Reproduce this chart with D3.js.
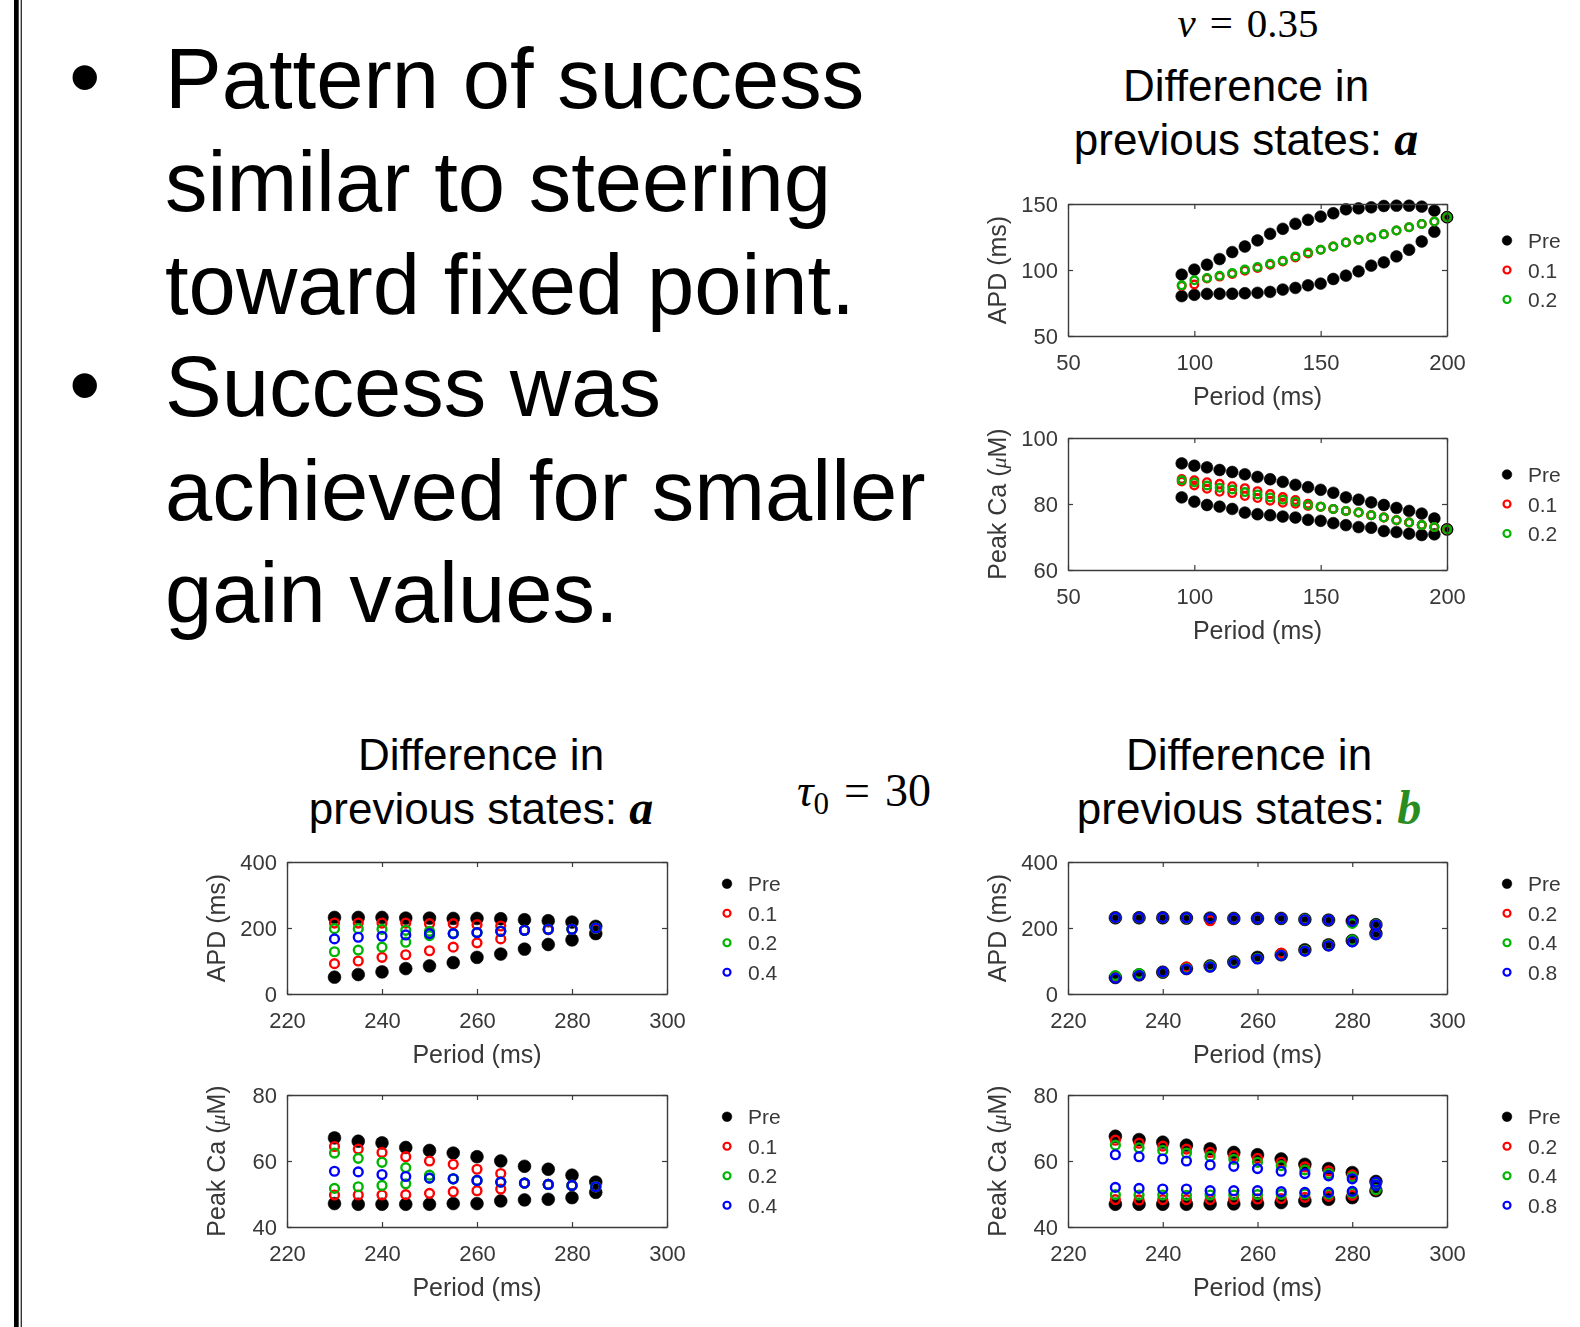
<!DOCTYPE html>
<html>
<head>
<meta charset="utf-8">
<script src="https://cdn.jsdelivr.net/npm/d3@7"></script>
<style>
  html, body { margin: 0; padding: 0; background: #ffffff; }
  svg { display: block; }
</style>
</head>
<body>
<script>
// ---------- Data ----------
// Pacing periods (ms)
const periodsV = [95,100,105,110,115,120,125,130,135,140,145,150,155,160,165,170,175,180,185,190,195,200];
const periodsT = [230,235,240,245,250,255,260,265,270,275,280,285];

// nu = 0.35, difference in a: APD (ms)
const apdV_pre_hi = [96.5,100.3,104.0,108.3,113.6,117.8,122.4,127.4,131.2,135.0,138.0,140.5,143.0,146.0,146.7,147.5,148.5,148.7,148.7,148.0,145.0,140.0];
const apdV_pre_lo = [80.2,81.2,81.9,82.0,82.0,82.4,82.7,83.4,85.2,86.4,88.4,89.7,93.2,95.7,99.0,103.3,105.8,110.3,115.3,121.6,129.0,140.0];
const apdV_g01    = [88.0,89.0,93.5,95.0,97.0,99.5,101.5,104.0,106.5,109.5,112.5,115.3,117.8,120.9,122.9,124.6,127.1,129.9,132.4,134.9,136.7,140.0];
const apdV_g02    = [88.4,92.2,94.0,95.7,97.7,100.3,102.3,104.8,107.0,110.3,113.3,115.3,117.8,120.9,122.9,124.6,127.1,129.9,132.4,134.9,136.7,140.0];

// nu = 0.35, difference in a: peak Ca (uM)
const caV_pre_hi = [92.3,91.6,91.1,90.3,89.7,89.0,88.2,87.5,86.7,85.8,85.1,84.3,83.4,82.0,81.3,80.5,79.7,78.8,77.9,77.1,75.6,72.3];
const caV_pre_lo = [82.0,80.7,79.7,79.2,78.5,77.4,76.9,76.6,76.2,75.9,75.2,74.9,74.2,73.6,73.0,72.8,71.8,71.5,71.0,70.6,70.8,72.3];
const caV_g01_hi = [87.6,87.2,86.6,86.1,85.4,84.8,83.9,83.0,82.1,81.2,80.1,79.2,78.5,77.9,77.4,76.6,75.9,75.1,74.4,73.6,73.0,72.3];
const caV_g01_lo = [86.8,85.6,84.6,83.7,83.3,82.4,81.8,81.0,80.4,80.1,79.4,79.2,78.5,77.9,77.4,76.6,75.9,75.1,74.4,73.6,73.0,72.3];
const caV_g02    = [87.2,86.5,85.6,84.9,84.4,83.6,82.9,82.0,81.3,80.7,79.7,79.2,78.5,77.9,77.4,76.6,75.9,75.1,74.4,73.6,73.0,72.3];

// tau0 = 30, difference in a: APD (ms)
const apdA_pre_hi = [232,232,232,230,230,229,229,228,225,222,218,205];
const apdA_pre_lo = [51,59,67,77,85,95,111,121,136,150,164,183];
const apdA_g01_hi = [215,215,215,215,213,213,210,206,193,195,196,199];
const apdA_g01_lo = [92,100,111,119,131,142,155,167,193,195,196,199];
const apdA_g02_hi = [198,198,196,193,190,183,186,190,193,196,196,200];
const apdA_g02_lo = [128,133,142,157,177,183,186,190,193,196,196,200];
const apdA_g04    = [167,172,175,179,183,183,186,190,193,196,196,200];

// tau0 = 30, difference in a: peak Ca (uM)
const caA_pre_hi = [67.0,66.0,65.5,64.1,63.2,62.4,61.3,60.0,58.4,57.5,55.7,53.6];
const caA_pre_lo = [47.1,46.9,46.9,46.9,46.9,47.1,47.1,47.9,48.2,48.4,48.9,50.5];
const caA_g01_hi = [64.4,63.6,62.6,61.3,60.0,59.0,57.5,56.2,53.3,52.9,52.6,52.2];
const caA_g01_lo = [49.7,49.7,49.7,49.8,50.2,50.7,51.0,51.5,53.3,52.9,52.6,52.2];
const caA_g02_hi = [62.4,60.8,59.6,58.0,55.7,54.6,54.1,53.6,53.3,52.9,52.6,52.2];
const caA_g02_lo = [51.7,52.2,52.6,53.1,54.8,54.6,54.1,53.6,53.3,52.9,52.6,52.2];
const caA_g04    = [56.9,56.7,55.9,55.3,54.8,54.6,54.1,53.6,53.3,52.9,52.6,52.2];

// tau0 = 30, difference in b: APD (ms)
const apdB_pre_hi = [231,231,231,230,230,229,229,229,226,224,221,210];
const apdB_pre_lo = [50,58,66,77,85,97,111,119,134,149,162,183];
const apdB_g02_hi = [231,231,231,230,222,229,229,229,226,224,220,210];
const apdB_g02_lo = [52,58,66,82,85,97,108,124,132,148,160,182];
const apdB_g04_hi = [231,231,231,230,230,229,229,229,226,224,214,210];
const apdB_g04_lo = [56,62,66,77,85,97,108,118,132,148,163,180];
const apdB_g08_hi = [232,232,232,231,230,229,229,229,225,224,220,209];
const apdB_g08_lo = [48,56,67,75,82,95,106,117,130,146,158,180];

// tau0 = 30, difference in b: peak Ca (uM)
const caB_pre_hi = [67.5,66.5,65.7,64.8,63.7,62.6,61.9,60.6,59.0,57.7,56.5,53.8];
const caB_pre_lo = [46.9,46.9,46.9,46.9,47.0,47.0,47.1,47.4,47.9,48.4,48.9,51.0];
const caB_g02_hi = [66.3,65.4,64.5,63.6,62.6,61.6,60.8,59.6,58.2,57.0,55.8,53.5];
const caB_g02_lo = [48.3,48.2,48.3,48.3,48.3,48.4,48.5,48.6,49.0,49.3,49.6,51.2];
const caB_g04_hi = [64.8,64.0,63.2,62.4,61.4,60.5,59.6,58.6,57.3,56.2,55.2,53.3];
const caB_g04_lo = [49.8,49.7,49.7,49.6,49.7,49.7,49.8,49.9,50.0,50.0,50.3,51.3];
const caB_g08_hi = [61.9,61.3,60.6,60.0,58.8,58.4,57.7,56.9,56.2,55.5,54.6,53.6];
const caB_g08_lo = [52.0,51.7,51.5,51.5,51.0,51.0,51.0,50.7,50.5,50.5,50.8,52.6];

// Axis ticks
const xTicksV = [50,100,150,200];
const yTicksApdV = [50,100,150];
const yTicksCaV = [60,80,100];
const xTicksT = [220,240,260,280,300];
const yTicksApdT = [0,200,400];
const yTicksCaT = [40,60,80];

// Legend entries
const legendV = ["Pre","0.1","0.2"];
const legendA = ["Pre","0.1","0.2","0.4"];
const legendB = ["Pre","0.2","0.4","0.8"];

// Slide text
const bulletLines = [
  {bullet: true,  text: "Pattern of success"},
  {bullet: false, text: "similar to steering"},
  {bullet: false, text: "toward fixed point."},
  {bullet: true,  text: "Success was"},
  {bullet: false, text: "achieved for smaller"},
  {bullet: false, text: "gain values."}
];

// ---------- Drawing ----------
const W = 1580, H = 1327;
const BLACK = "#000000", RED = "#ff0000", GREEN = "#00b400", BLUE = "#0000ff";

const svg = d3.select("body").append("svg")
  .attr("width", W).attr("height", H)
  .attr("viewBox", `0 0 ${W} ${H}`);

svg.append("rect").attr("width", W).attr("height", H).attr("fill", "#fff");

const defs = svg.append("defs");
defs.append("filter").attr("id", "soft")
  .attr("x", "-5%").attr("y", "-5%").attr("width", "110%").attr("height", "110%")
  .append("feGaussianBlur").attr("stdDeviation", 0.6);

// slide border at the left
svg.append("rect").attr("x", 14).attr("y", 0).attr("width", 4.7).attr("height", H).attr("fill", "#000");
svg.append("rect").attr("x", 20.7).attr("y", 0).attr("width", 1.1).attr("height", H).attr("fill", "#000");

// bullet text
const baselines = [108, 211, 314, 416, 520, 622];
const body = svg.append("g").attr("font-family", "'Liberation Sans', Arial, sans-serif")
  .attr("font-size", 85).attr("fill", "#000");
bulletLines.forEach((ln, i) => {
  if (ln.bullet) body.append("text").attr("x", 69).attr("y", baselines[i]).attr("font-size", 90).text("\u2022");
  body.append("text").attr("x", 165).attr("y", baselines[i]).text(ln.text);
});

// parameter labels
const serif = "'Liberation Serif', 'DejaVu Serif', serif";
const nu = svg.append("text").attr("x", 1248).attr("y", 37).attr("text-anchor", "middle")
  .attr("font-family", serif).attr("font-size", 41).attr("fill", "#000");
nu.append("tspan").attr("font-style", "italic").text("\u03bd");
nu.append("tspan").attr("dx", 14).text("=");
nu.append("tspan").attr("dx", 14).text("0.35");

const tau = svg.append("text").attr("x", 864).attr("y", 806).attr("text-anchor", "middle")
  .attr("font-family", serif).attr("font-size", 46).attr("fill", "#000");
tau.append("tspan").attr("font-style", "italic").text("\u03c4");
tau.append("tspan").attr("font-size", 31).attr("dy", 8).text("0");
tau.append("tspan").attr("dy", -8).attr("dx", 15).text("=");
tau.append("tspan").attr("dx", 15).text("30");

// block titles
function title(cx, y1, letter, color) {
  const g = svg.append("g").attr("font-family", "'Liberation Sans', Arial, sans-serif")
    .attr("font-size", 44).attr("fill", "#000").attr("text-anchor", "middle");
  g.append("text").attr("x", cx).attr("y", y1).text("Difference in");
  const t = g.append("text").attr("x", cx).attr("y", y1 + 54);
  t.append("tspan").text("previous states: ");
  t.append("tspan").attr("font-family", serif).attr("font-weight", "bold")
    .attr("font-style", "italic").attr("fill", color).attr("font-size", 48).text(letter);
}
title(1246, 101, "a", "#000");
title(481, 770, "a", "#000");
title(1249, 770, "b", "#2a8c1e");

// panels
const panels = [
  { x0: 1068, y0: 204, w: 379, h: 132, xDomain: [50,200], yDomain: [50,150],
    xTicks: xTicksV, yTicks: yTicksApdV, xs: periodsV, yLabel: "APD (ms)", legend: legendV, rDot: 5.9, rRing: 3.8,
    series: [
      {color: BLACK, filled: true,  branches: [apdV_pre_hi, apdV_pre_lo]},
      {color: RED,   filled: false, branches: [apdV_g01]},
      {color: GREEN, filled: false, branches: [apdV_g02]} ] },
  { x0: 1068, y0: 438, w: 379, h: 132, xDomain: [50,200], yDomain: [60,100],
    xTicks: xTicksV, yTicks: yTicksCaV, xs: periodsV, yLabel: "ca", legend: legendV, rDot: 5.9, rRing: 3.8,
    series: [
      {color: BLACK, filled: true,  branches: [caV_pre_hi, caV_pre_lo]},
      {color: RED,   filled: false, branches: [caV_g01_hi, caV_g01_lo]},
      {color: GREEN, filled: false, branches: [caV_g02]} ] },
  { x0: 287, y0: 862, w: 380, h: 132, xDomain: [220,300], yDomain: [0,400],
    xTicks: xTicksT, yTicks: yTicksApdT, xs: periodsT, yLabel: "APD (ms)", legend: legendA, rDot: 6.4, rRing: 4.4,
    series: [
      {color: BLACK, filled: true,  branches: [apdA_pre_hi, apdA_pre_lo]},
      {color: RED,   filled: false, branches: [apdA_g01_hi, apdA_g01_lo]},
      {color: GREEN, filled: false, branches: [apdA_g02_hi, apdA_g02_lo]},
      {color: BLUE,  filled: false, branches: [apdA_g04]} ] },
  { x0: 287, y0: 1095, w: 380, h: 132, xDomain: [220,300], yDomain: [40,80],
    xTicks: xTicksT, yTicks: yTicksCaT, xs: periodsT, yLabel: "ca", legend: legendA, rDot: 6.4, rRing: 4.4,
    series: [
      {color: BLACK, filled: true,  branches: [caA_pre_hi, caA_pre_lo]},
      {color: RED,   filled: false, branches: [caA_g01_hi, caA_g01_lo]},
      {color: GREEN, filled: false, branches: [caA_g02_hi, caA_g02_lo]},
      {color: BLUE,  filled: false, branches: [caA_g04]} ] },
  { x0: 1068, y0: 862, w: 379, h: 132, xDomain: [220,300], yDomain: [0,400],
    xTicks: xTicksT, yTicks: yTicksApdT, xs: periodsT, yLabel: "APD (ms)", legend: legendB, rDot: 6.4, rRing: 4.4,
    series: [
      {color: BLACK, filled: true,  branches: [apdB_pre_hi, apdB_pre_lo]},
      {color: RED,   filled: false, branches: [apdB_g02_hi, apdB_g02_lo]},
      {color: GREEN, filled: false, branches: [apdB_g04_hi, apdB_g04_lo]},
      {color: BLUE,  filled: false, branches: [apdB_g08_hi, apdB_g08_lo]} ] },
  { x0: 1068, y0: 1095, w: 379, h: 132, xDomain: [220,300], yDomain: [40,80],
    xTicks: xTicksT, yTicks: yTicksCaT, xs: periodsT, yLabel: "ca", legend: legendB, rDot: 6.4, rRing: 4.4,
    series: [
      {color: BLACK, filled: true,  branches: [caB_pre_hi, caB_pre_lo]},
      {color: RED,   filled: false, branches: [caB_g02_hi, caB_g02_lo]},
      {color: GREEN, filled: false, branches: [caB_g04_hi, caB_g04_lo]},
      {color: BLUE,  filled: false, branches: [caB_g08_hi, caB_g08_lo]} ] }
];

const AX = "#3a3a3a";
const sans = "'Liberation Sans', Arial, Helvetica, sans-serif";

function drawPanel(p) {
  const g = svg.append("g").attr("filter", "url(#soft)");
  const x = d3.scaleLinear().domain(p.xDomain).range([p.x0, p.x0 + p.w]);
  const y = d3.scaleLinear().domain(p.yDomain).range([p.y0 + p.h, p.y0]);

  g.append("rect").attr("x", p.x0).attr("y", p.y0).attr("width", p.w).attr("height", p.h).attr("fill", "#fff");

  // data markers, series drawn in legend order
  p.series.forEach(s => {
    s.branches.forEach(vals => {
      const pts = p.xs.map((px, i) => [px, vals[i]]);
      g.append("g").selectAll("circle").data(pts).join("circle")
        .attr("cx", d => x(d[0])).attr("cy", d => y(d[1]))
        .attr("r", s.filled ? p.rDot : p.rRing)
        .attr("fill", s.filled ? s.color : "none")
        .attr("stroke", s.color)
        .attr("stroke-width", s.filled ? 0.6 : 2.4);
    });
  });

  // axes: inward ticks on all four sides
  const fmt = d3.format("d");
  const styleAxis = sel => {
    sel.selectAll(".domain").attr("stroke", AX).attr("stroke-width", 1.4);
    sel.selectAll(".tick line").attr("stroke", AX).attr("stroke-width", 1.2);
    sel.selectAll("text").attr("font-family", sans).attr("font-size", 22).attr("fill", "#383838");
  };
  g.append("g").attr("transform", `translate(0,${p.y0 + p.h})`)
    .call(d3.axisBottom(x).tickValues(p.xTicks).tickFormat(fmt).tickSizeInner(-5).tickSizeOuter(0).tickPadding(18))
    .call(styleAxis);
  g.append("g").attr("transform", `translate(0,${p.y0})`)
    .call(d3.axisTop(x).tickValues(p.xTicks).tickFormat("").tickSizeInner(-5).tickSizeOuter(0))
    .call(styleAxis);
  g.append("g").attr("transform", `translate(${p.x0},0)`)
    .call(d3.axisLeft(y).tickValues(p.yTicks).tickFormat(fmt).tickSizeInner(-5).tickSizeOuter(0).tickPadding(10))
    .call(styleAxis);
  g.append("g").attr("transform", `translate(${p.x0 + p.w},0)`)
    .call(d3.axisRight(y).tickValues(p.yTicks).tickFormat("").tickSizeInner(-5).tickSizeOuter(0))
    .call(styleAxis);

  // axis titles
  g.append("text").attr("x", p.x0 + p.w / 2).attr("y", p.y0 + p.h + 69)
    .attr("text-anchor", "middle").attr("font-family", sans).attr("font-size", 25).attr("fill", "#383838")
    .text("Period (ms)");
  const yl = g.append("text")
    .attr("transform", `translate(${p.x0 - 62},${p.y0 + p.h / 2}) rotate(-90)`)
    .attr("text-anchor", "middle").attr("font-family", sans).attr("font-size", 25).attr("fill", "#383838");
  if (p.yLabel === "ca") {
    yl.append("tspan").text("Peak Ca (");
    yl.append("tspan").attr("font-family", serif).attr("font-style", "italic").attr("font-size", 22).text("\u03bc");
    yl.append("tspan").text("M)");
  } else {
    yl.text(p.yLabel);
  }

  // legend, vertically centred on the axes
  const step = 29.5;
  const top = p.y0 + p.h / 2 - step * (p.legend.length - 1) / 2;
  p.legend.forEach((lab, i) => {
    const s = p.series[i];
    const ly = top + i * step;
    g.append("circle").attr("cx", p.x0 + p.w + 60).attr("cy", ly)
      .attr("r", s.filled ? 4.8 : 3.5)
      .attr("fill", s.filled ? s.color : "none").attr("stroke", s.color)
      .attr("stroke-width", s.filled ? 0.6 : 2.2);
    g.append("text").attr("x", p.x0 + p.w + 81).attr("y", ly).attr("dy", "0.36em")
      .attr("font-family", sans).attr("font-size", 21).attr("fill", "#383838").text(lab);
  });
}

panels.forEach(drawPanel);
</script>
</body>
</html>
